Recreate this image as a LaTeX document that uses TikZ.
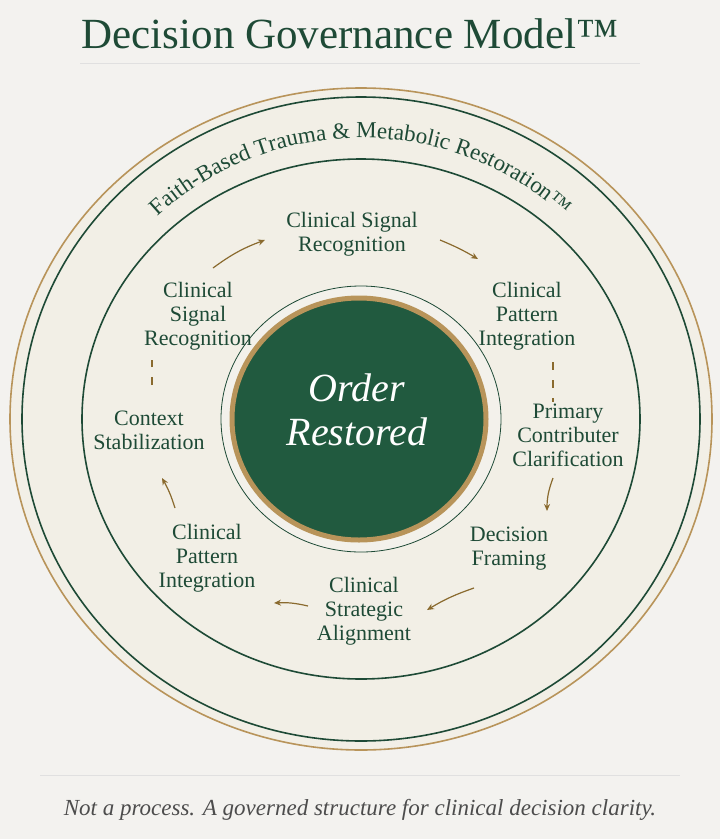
\documentclass[tikz,border=0pt]{standalone}
\usepackage{fontspec}
\setmainfont{Liberation Serif}
\usetikzlibrary{positioning,decorations.text,arrows.meta}
\definecolor{dgreen}{HTML}{1E4A36}
\definecolor{fgreen}{HTML}{215A3F}
\definecolor{gold}{HTML}{B8945A}
\definecolor{bronze}{HTML}{8A6A2E}
\definecolor{paper}{HTML}{F3F2EF}
\definecolor{cream}{HTML}{F2EFE6}
\tikzset{
  stage/.style={align=center, text=dgreen, font=\fontsize{22}{24}\selectfont, inner sep=1pt},
  flow/.style={-{Stealth[length=7pt,width=6pt]}, draw=bronze, line width=1.2pt},
  gap/.style={draw=bronze, line width=1.2pt, dash pattern=on 8pt off 10pt},
}
\begin{document}
\begin{tikzpicture}[x=1pt,y=-1pt]
  \fill[paper] (0,0) rectangle (720,839);
  \useasboundingbox (0,0) rectangle (720,839);
  \coordinate (c) at (361,419);
  % rings
  \draw[gold, line width=1.6pt, fill=cream] (c) ellipse [x radius=351, y radius=331];
  \draw[dgreen, line width=1.6pt] (c) ellipse [x radius=339, y radius=322];
  \draw[dgreen, line width=1.6pt] (c) ellipse [x radius=279, y radius=260];
  \draw[dgreen, line width=0.8pt, fill=paper!60!cream] (c) ellipse [x radius=140, y radius=133];
  \draw[gold, line width=5pt, fill=fgreen] (359,419) ellipse [x radius=127, y radius=121];
  % titles
  \node[text=dgreen, font=\fontsize{43}{48}\selectfont] (title) at (350,34) {Decision Governance Model™};
  \draw[black!12, line width=0.6pt] (80,63) -- (640,63);
  \draw[black!12, line width=0.6pt] (40,775) -- (680,775);
  \node[text=black!70, font=\itshape\fontsize{23}{26}\selectfont] (note) at (360,810)
    {Not a process. A governed structure for clinical decision clarity.};
  \path[decorate, decoration={text along path, text align=center,
      text={|\fontsize{23}{26}\selectfont\color{dgreen}|Faith-Based Trauma {\&} Metabolic Restoration{™}}}]
    (c) ++(208:{293} and {281}) arc[start angle=208, end angle=332, x radius=293, y radius=281];
  \node[text=white, align=center, font=\itshape\fontsize{40}{44}\selectfont] (core) at (357,410) {Order\\Restored};
  % stages
  \node[stage] (sig) at (352,234) {Clinical Signal\\Recognition};
  \node[stage] (pat) at (527,316) {Clinical\\Pattern\\Integration};
  \node[stage] (pri) at (568,435) {Primary\\Contributer\\Clarification};
  \node[stage] (dec) at (509,549) {Decision\\Framing};
  \node[stage] (ali) at (364,611) {Clinical\\Strategic\\Alignment};
  \node[stage] (pat2) at (207,558) {Clinical\\Pattern\\Integration};
  \node[stage] (ctx) at (149,430) {Context\\Stabilization};
  \node[stage] (sig2) at (198,316) {Clinical\\Signal\\Recognition};
  % arrow ends
  \coordinate (a1) at (213,268); \coordinate (b1) at (265,240);
  \coordinate (a2) at (440,240); \coordinate (b2) at (478,259);
  \coordinate (a3) at (553,362); \coordinate (b3) at (553,402);
  \coordinate (a4) at (553,478); \coordinate (b4) at (547,511);
  \coordinate (a5) at (474,588); \coordinate (b5) at (427,610);
  \coordinate (a6) at (308,606); \coordinate (b6) at (274,603);
  \coordinate (a7) at (175,508); \coordinate (b7) at (162,478);
  \coordinate (a8) at (152,385); \coordinate (b8) at (152,360);
  % connectors
  \draw[flow] (a1) to[bend left=8] (b1);
  \draw[flow] (a2) to[bend left=4] (b2);
  \draw[gap] (a3) -- (b3);
  \draw[flow] (a4) to[bend right=10] (b4);
  \draw[flow] (a5) to[bend right=6] (b5);
  \draw[flow] (a6) to[bend right=8] (b6);
  \draw[flow] (a7) to[bend right=6] (b7);
  \draw[gap] (a8) -- (b8);
\end{tikzpicture}
\end{document}
